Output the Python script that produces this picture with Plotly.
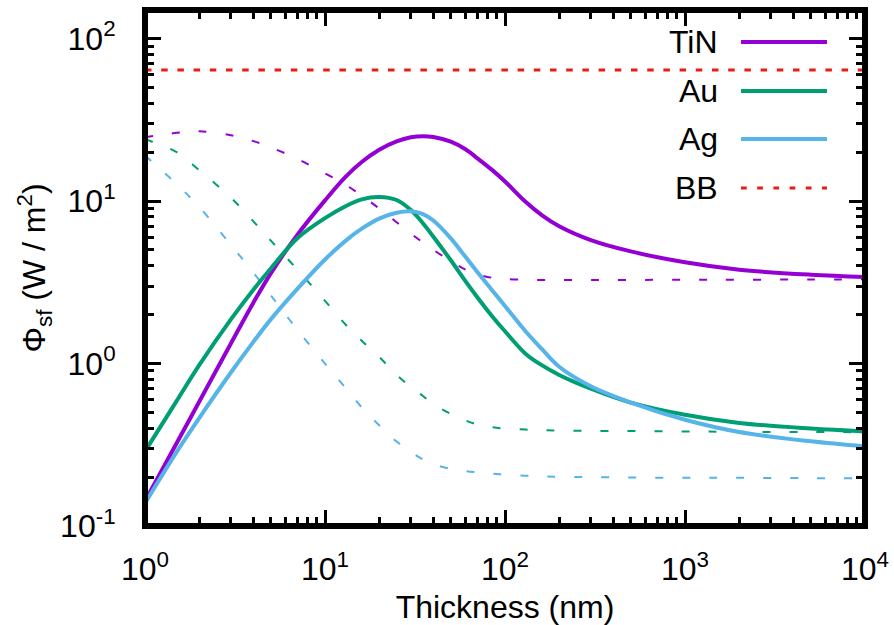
import plotly.graph_objects as go

# Film thickness (nm)
thickness = [1, 1.5, 2, 3, 4, 5, 7, 10, 13, 16, 20, 25, 30, 35, 40, 50, 60, 70, 85,
             100, 130, 160, 200, 300, 500, 1000, 2000, 5000, 10000]

# Solid curves: Phi_sf (W/m^2)
tin_solid = [0.142, 0.324, 0.582, 1.33, 2.37, 3.59, 6.17, 10.1, 14.1, 17.4, 20.7, 23.3,
             24.7, 25.1, 24.8, 23.2, 20.9, 18.4, 15.5, 13.2, 9.9, 8.2, 7.0, 5.75, 4.9,
             4.2, 3.78, 3.52, 3.41]
au_solid = [0.288, 0.589, 0.977, 1.87, 2.85, 3.85, 5.89, 7.85, 9.3, 10.25, 10.6, 10.15,
            8.8, 7.3, 6.03, 4.32, 3.24, 2.57, 1.95, 1.58, 1.15, 0.977, 0.851, 0.70,
            0.575, 0.484, 0.431, 0.398, 0.382]
ag_solid = [0.138, 0.286, 0.462, 0.881, 1.36, 1.87, 2.87, 4.37, 5.69, 6.76, 7.8, 8.47,
            8.65, 8.32, 7.59, 5.89, 4.57, 3.67, 2.82, 2.26, 1.58, 1.23, 0.955, 0.724,
            0.575, 0.451, 0.379, 0.332, 0.309]

# Dashed curves
tin_dash = [24.7, 26.3, 26.9, 25.4, 23.4, 21.4, 18.2, 14.8, 12.6, 10.8, 9.0, 7.4, 6.31,
            5.56, 5.01, 4.27, 3.8, 3.55, 3.37, 3.31, 3.28, 3.27, 3.27, 3.27, 3.27, 3.28,
            3.28, 3.29, 3.3]
au_dash = [24.0, 20.0, 15.5, 10.5, 7.5, 5.71, 3.8, 2.43, 1.74, 1.38, 1.1, 0.851, 0.716,
           0.631, 0.562, 0.49, 0.447, 0.422, 0.405, 0.398, 0.392, 0.389, 0.387, 0.385,
           0.384, 0.382, 0.38, 0.379, 0.378]
ag_dash = [19.1, 12.7, 9.2, 5.37, 3.63, 2.63, 1.62, 1.0, 0.708, 0.537, 0.417, 0.331,
           0.285, 0.257, 0.24, 0.225, 0.218, 0.214, 0.21, 0.207, 0.204, 0.202, 0.201,
           0.2, 0.199, 0.198, 0.198, 0.197, 0.197]

bb_value = 64.0

names = ["TiN", "Au", "Ag", "BB"]
colors = {"TiN": "#9400d3", "Au": "#009e73", "Ag": "#56b4e9", "BB": "#e51e10"}

FONT = "Liberation Sans, Arial, Helvetica, sans-serif"
FS = 32

fig = go.Figure()

for name, ys in [("TiN", tin_dash), ("Au", au_dash), ("Ag", ag_dash)]:
    fig.add_trace(go.Scatter(x=thickness, y=ys, mode="lines", showlegend=False,
                             line=dict(color=colors[name], width=2, dash="8px,19px",
                                       shape="spline", smoothing=1.0)))

for name, ys in [("TiN", tin_solid), ("Au", au_solid), ("Ag", ag_solid)]:
    fig.add_trace(go.Scatter(x=thickness, y=ys, mode="lines", showlegend=False,
                             line=dict(color=colors[name], width=4,
                                       shape="spline", smoothing=1.0)))

fig.add_trace(go.Scatter(x=[thickness[0], thickness[-1]], y=[bb_value, bb_value],
                         mode="lines", showlegend=False,
                         line=dict(color=colors["BB"], width=3, dash="6.5px,9.7px")))

# Key: label on the left, line sample on the right
key_y = [0.938, 0.843, 0.750, 0.655]
for name, ky in zip(names, key_y):
    fig.add_annotation(x=0.7986, y=ky, xref="paper", yref="paper", text=name,
                       showarrow=False, xanchor="right", yanchor="middle",
                       font=dict(family=FONT, size=FS, color="black"))
    fig.add_shape(type="line", xref="paper", yref="paper", x0=0.8278, x1=0.9472,
                  y0=ky, y1=ky, layer="above",
                  line=dict(color=colors[name], width=4 if name != "BB" else 3,
                            dash="solid" if name != "BB" else "5.7px,10.5px"))

# Border: inner half from a rectangle, outer half from the axis lines
fig.add_shape(type="rect", xref="paper", yref="paper", x0=0, x1=1, y0=0, y1=1,
              layer="above", line=dict(color="black", width=6))

x_major = [1, 10, 100, 1000, 10000]
x_labels = ["10<sup>0</sup>", "10<sup>1</sup>", "10<sup>2</sup>", "10<sup>3</sup>", "10<sup>4</sup>"]
y_major = [0.1, 1, 10, 100]
y_labels = ["10<sup>-1</sup>", "10<sup>0</sup>", "10<sup>1</sup>", "10<sup>2</sup>"]
x_minor = [m * 10 ** e for e in range(0, 4) for m in range(2, 10)]
y_minor = [m * 10 ** e for e in range(-1, 3) for m in range(2, 10) if m * 10 ** e <= 150]

common = dict(type="log", showline=True, linewidth=3, linecolor="black",
              showgrid=False, zeroline=False,
              ticks="inside", ticklen=16, tickwidth=2.5, tickcolor="black",
              mirror="allticks", tickmode="array",
              tickfont=dict(family=FONT, size=FS, color="black"))

fig.update_xaxes(range=[0, 4], tickvals=x_major, ticktext=x_labels,
                 minor=dict(tickmode="array", tickvals=x_minor, ticks="inside",
                            ticklen=9, tickwidth=2.5, tickcolor="black", showgrid=False),
                 title=dict(text="Thickness (nm)", standoff=14,
                            font=dict(family=FONT, size=FS, color="black")),
                 ticklabelstandoff=13, **common)
fig.update_yaxes(range=[-1, 2.1761], tickvals=y_major, ticktext=y_labels,
                 minor=dict(tickmode="array", tickvals=y_minor, ticks="inside",
                            ticklen=9, tickwidth=2.5, tickcolor="black", showgrid=False),
                 title=dict(text="Φ<sub>sf</sub> (W / m<sup>2</sup>)", standoff=5,
                            font=dict(family=FONT, size=FS, color="black")),
                 ticklabelstandoff=20, **common)

fig.update_layout(width=894, height=625, plot_bgcolor="white", paper_bgcolor="white",
                  margin=dict(l=145, r=29, t=10, b=99, autoexpand=False),
                  showlegend=False)

fig.write_html("out.html")
